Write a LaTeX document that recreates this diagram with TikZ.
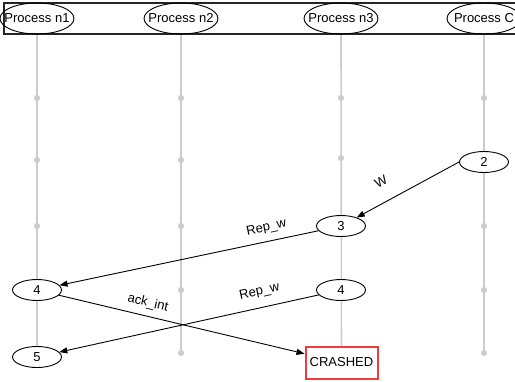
\documentclass[tikz,border=0pt]{standalone}
\usepackage{fontspec}
\setmainfont{Liberation Sans}
\usetikzlibrary{arrows.meta, positioning, shapes.geometric, backgrounds}
\definecolor{lifegray}{HTML}{CCCCCC}
\definecolor{crashred}{HTML}{EE3B3B}

\begin{document}
\begin{tikzpicture}[
  x=1pt, y=-1pt,
  every node/.style={font=\fontsize{13}{15}\selectfont},
  proc/.style={ellipse, draw, line width=0.9pt, minimum width=74pt, minimum height=31pt, inner sep=0pt},
  event/.style={ellipse, draw, line width=0.9pt, fill=white, minimum width=49pt, minimum height=21pt, inner sep=0pt},
  crash/.style={rectangle, draw=crashred, fill=white, line width=2pt, minimum width=72pt, minimum height=32pt, inner sep=0pt},
  life/.style={draw=lifegray, line width=1.6pt},
  msg/.style={-{Triangle[length=8pt, width=6pt]}, line width=0.9pt},
  lbl/.style={font=\fontsize{13}{15}\selectfont, sloped},
]
\useasboundingbox (0,0) rectangle (515,381);

% Header with the processes
\node[draw=black!85, line width=1.1pt, minimum width=517pt, minimum height=31pt, inner sep=0pt] (head) at (262.5,18.5) {};
\node[proc] (pn1) at (37,18.5) {\makebox[40pt]{Process n1}};
\node[proc] (pn2) at (181,18.5) {\makebox[40pt]{Process n2}};
\node[proc] (pn3) at (341,18.5) {\makebox[40pt]{Process n3}};
\node[proc] (pc) at (484,18.5) {\makebox[40pt]{Process C}};

% Events
\node[event] (c2) at (484,162) {2};
\node[event] (n3e3) at (341,226) {3};
\node[event] (n1e4) at (37,290) {4};
\node[event] (n3e4) at (341,290) {4};
\node[event] (n1e5) at (37,357) {5};
\node[crash] (n3x) at (341.5,362.5) {CRASHED};

% Lifelines and ticks
\begin{scope}[on background layer]
  \draw[life] (pn1.south) -- (n1e5);
  \draw[life] (pn2.south) -- (181,353);
  \draw[life] (pn3.south) -- (n3x);
  \draw[life] (pc.south) -- (484,353);
  \foreach \y in {98,160,226} \fill[lifegray] (37,\y) circle (3.1pt);
  \foreach \y in {98,160,226,290,353} \fill[lifegray] (181,\y) circle (3.1pt);
  \foreach \y in {98,158} \fill[lifegray] (341,\y) circle (3.1pt);
  \foreach \y in {98,226,290,353} \fill[lifegray] (484,\y) circle (3.1pt);
\end{scope}

% Messages
\draw[msg] (c2.west) -- node[lbl, pos=0.67, above=12pt] {W} (n3e3);
\draw[msg] (n3e3) -- node[lbl, pos=0.19, above=4pt] {Rep\_w} (n1e4);
\draw[msg] (n3e4) -- node[lbl, pos=0.215, above=6pt] {Rep\_w} (n1e5);
\draw[msg] (n1e4) -- node[lbl, pos=0.35, above=3pt] {ack\_int} (n3x);

\end{tikzpicture}
\end{document}
